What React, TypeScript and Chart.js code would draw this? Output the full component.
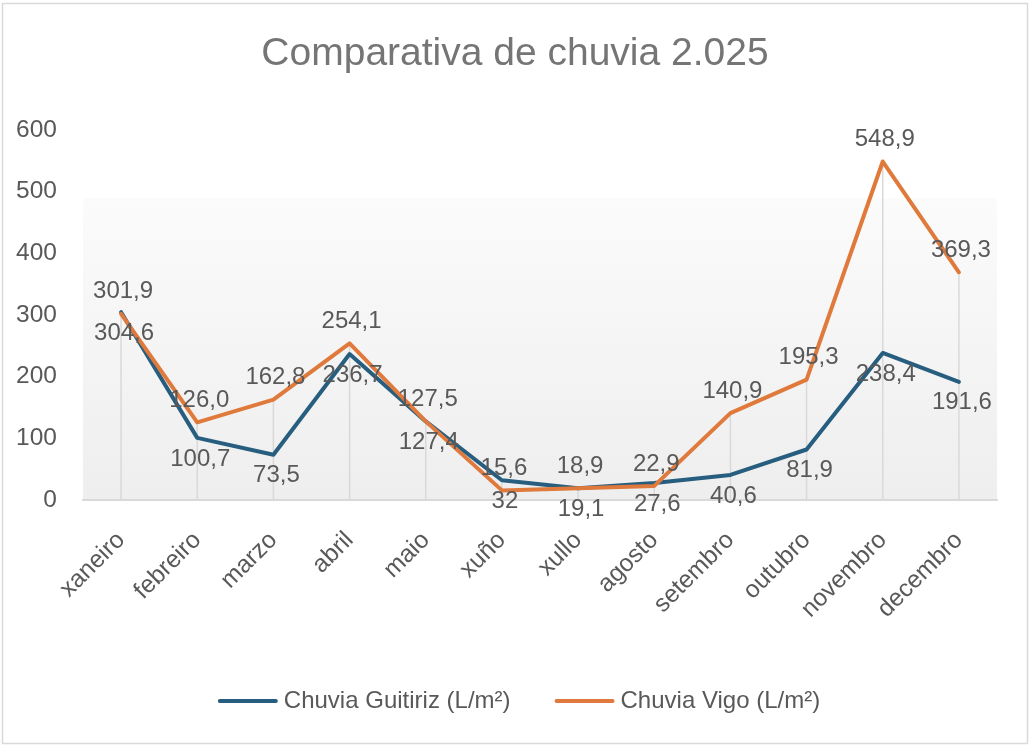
import React, { useEffect, useRef } from "react";
import { Chart, registerables } from "chart.js";

Chart.register(...registerables);

const title = "Comparativa de chuvia 2.025";
const months = ["xaneiro", "febreiro", "marzo", "abril", "maio", "xuño", "xullo", "agosto", "setembro", "outubro", "novembro", "decembro"];
const guitirizName = "Chuvia Guitiriz (L/m²)";
const vigoName = "Chuvia Vigo (L/m²)";
const guitiriz = [304.6, 100.7, 73.5, 236.7, 127.4, 32, 19.1, 27.6, 40.6, 81.9, 238.4, 191.6];
const vigo = [301.9, 126.0, 162.8, 254.1, 127.5, 15.6, 18.9, 22.9, 140.9, 195.3, 548.9, 369.3];
const guitirizLabels = ["304,6", "100,7", "73,5", "236,7", "127,4", "32", "19,1", "27,6", "40,6", "81,9", "238,4", "191,6"];
const vigoLabels = ["301,9", "126,0", "162,8", "254,1", "127,5", "15,6", "18,9", "22,9", "140,9", "195,3", "548,9", "369,3"];
const yTicks = [0, 100, 200, 300, 400, 500, 600];

const BLUE = "#275e7f";
const ORANGE = "#e07a3c";
const TEXT = "#595959";
const FONT = "'Liberation Sans', Arial, sans-serif";

const decorPlugin = {
  id: "decor",
  beforeDraw(chart: any) {
    const { ctx, chartArea: a, width, height } = chart;
    ctx.save();
    ctx.fillStyle = "#ffffff";
    ctx.fillRect(0, 0, width, height);
    // plot-area gradient
    const gTop = a.top + (a.bottom - a.top) * 0.185;
    const g = ctx.createLinearGradient(0, gTop, 0, a.bottom);
    g.addColorStop(0, "#fbfbfb");
    g.addColorStop(1, "#eeeeee");
    ctx.fillStyle = g;
    ctx.fillRect(a.left, gTop, a.right - a.left, a.bottom - gTop);
    // outer border
    ctx.strokeStyle = "#d9d9d9";
    ctx.lineWidth = 1.5;
    ctx.strokeRect(2.5, 3.5, width - 5, height - 6);
    ctx.restore();
  },
  beforeDatasetsDraw(chart: any) {
    const { ctx, chartArea: a } = chart;
    const x = chart.scales.x;
    const y = chart.scales.y;
    ctx.save();
    ctx.strokeStyle = "#d9d9d9";
    ctx.lineWidth = 1.5;
    months.forEach((_, i) => {
      const px = x.getPixelForValue(i);
      const top = y.getPixelForValue(Math.max(guitiriz[i], vigo[i]));
      ctx.beginPath();
      ctx.moveTo(px, top);
      ctx.lineTo(px, a.bottom);
      ctx.stroke();
    });
    ctx.restore();
  },
  afterDatasetsDraw(chart: any) {
    const { ctx } = chart;
    const x = chart.scales.x;
    const y = chart.scales.y;
    ctx.save();
    ctx.font = `24px ${FONT}`;
    ctx.fillStyle = TEXT;
    ctx.textAlign = "center";
    ctx.textBaseline = "middle";
    months.forEach((_, i) => {
      const px = x.getPixelForValue(i);
      ctx.fillText(vigoLabels[i], px + 2, y.getPixelForValue(vigo[i]) - 22);
      ctx.fillText(guitirizLabels[i], px + 3, y.getPixelForValue(guitiriz[i]) + 21);
    });
    ctx.restore();
  },
  afterDraw(chart: any) {
    const { ctx, width } = chart;
    ctx.save();
    // title
    ctx.font = `39px ${FONT}`;
    ctx.fillStyle = "#757575";
    ctx.textAlign = "center";
    ctx.textBaseline = "alphabetic";
    ctx.fillText(title, width / 2, 65);
    // legend
    ctx.font = `24px ${FONT}`;
    ctx.textAlign = "left";
    ctx.textBaseline = "middle";
    const sample = 60;
    const gap = 6;
    const between = 44;
    const w1 = ctx.measureText(guitirizName).width;
    const w2 = ctx.measureText(vigoName).width;
    const total = sample + gap + w1 + between + sample + gap + w2;
    let lx = 519 - total / 2;
    const ly = 701;
    const items = [
      { name: guitirizName, color: BLUE, w: w1 },
      { name: vigoName, color: ORANGE, w: w2 },
    ];
    items.forEach((it) => {
      ctx.strokeStyle = it.color;
      ctx.lineWidth = 4;
      ctx.lineCap = "round";
      ctx.beginPath();
      ctx.moveTo(lx + 2, ly);
      ctx.lineTo(lx + sample - 2, ly);
      ctx.stroke();
      ctx.fillStyle = TEXT;
      ctx.fillText(it.name, lx + sample + gap, ly);
      lx += sample + gap + it.w + between;
    });
    ctx.restore();
  },
};

export default function App() {
  const ref = useRef<HTMLCanvasElement>(null);
  useEffect(() => {
    if (!ref.current) return;
    const chart = new Chart(ref.current, {
      type: "line",
      data: {
        labels: months,
        datasets: [
          {
            label: guitirizName,
            data: guitiriz,
            borderColor: BLUE,
            backgroundColor: BLUE,
            borderWidth: 4,
            pointRadius: 0,
            borderJoinStyle: "round",
            borderCapStyle: "round",
            order: 1,
          },
          {
            label: vigoName,
            data: vigo,
            borderColor: ORANGE,
            backgroundColor: ORANGE,
            borderWidth: 4,
            pointRadius: 0,
            borderJoinStyle: "round",
            borderCapStyle: "round",
            order: 0,
          },
        ],
      },
      options: {
        responsive: false,
        animation: false,
        devicePixelRatio: 1,
        layout: { padding: { top: 130, right: 33, bottom: 0, left: 0 } },
        plugins: {
          legend: { display: false },
          title: { display: false },
          tooltip: { enabled: false },
        },
        scales: {
          x: {
            type: "category",
            offset: true,
            grid: { display: false, drawTicks: false },
            border: { display: true, color: "#d9d9d9", width: 2 },
            ticks: {
              minRotation: 45,
              maxRotation: 45,
              autoSkip: false,
              padding: 26,
              color: TEXT,
              font: { family: FONT, size: 24.5 },
            },
            afterFit: (s: any) => {
              s.height = 246;
            },
          },
          y: {
            min: 0,
            max: 600,
            afterBuildTicks: (s: any) => {
              s.ticks = yTicks.map((v) => ({ value: v }));
            },
            grid: { display: false, drawTicks: false },
            border: { display: false },
            ticks: {
              padding: 26,
              color: TEXT,
              font: { family: FONT, size: 24.5 },
            },
            afterFit: (s: any) => {
              s.width = 83;
            },
          },
        },
      },
      plugins: [decorPlugin],
    });
    return () => chart.destroy();
  }, []);
  return (
    <div style={{ position: "absolute", left: 0, top: 0, width: 1030, height: 746 }}>
      <canvas ref={ref} width={1030} height={746} />
    </div>
  );
}
